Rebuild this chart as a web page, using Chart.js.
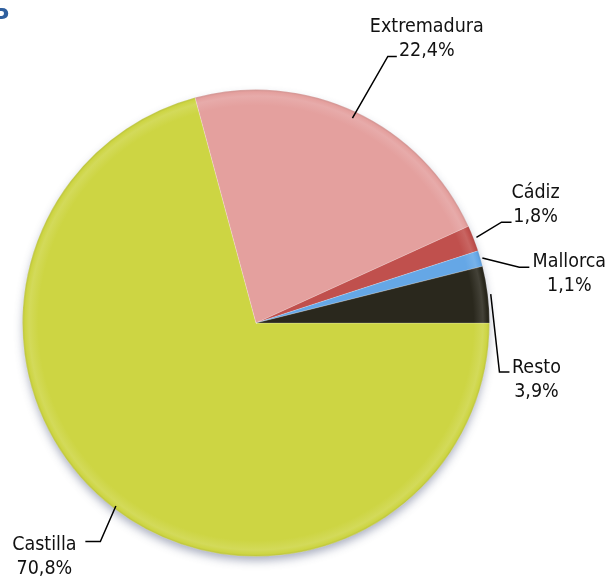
<!DOCTYPE html>
<html><head><meta charset="utf-8">
<script src="https://cdn.jsdelivr.net/npm/chart.js@4/dist/chart.umd.min.js"></script>
<style>html,body{margin:0;padding:0;background:#fff}#wrap{width:613px;height:579px}</style>
</head><body><div id="wrap"><canvas id="c" width="613" height="579"></canvas></div>
<script>
// ---- data ----
const categories = ["Castilla", "Extremadura", "Cádiz", "Mallorca", "Resto"];
const shares = [70.8, 22.4, 1.8, 1.1, 3.9];
const valueLabels = ["70,8%", "22,4%", "1,8%", "1,1%", "3,9%"];
const sliceColors = ["#cdd543", "#e4a09e", "#c0504d", "#65a7e6", "#2a281d"];

// ---- label layout (leader lines relative to each slice's outer edge) ----
const labelLayout = [
  { start: -3, elbow: [-13.7, 33.2], tail: -15, text: [-56, 8] },
  { start: -7, elbow: [32.4, -55.3], tail: 9, text: [39, -24] },
  { start: 3, elbow: [27.9, -16.2], tail: 10, text: [34, -24] },
  { start: 2, elbow: [38.9, 8.7], tail: 10, text: [50, 0] },
  { start: 3, elbow: [11.7, 77.5], tail: 10, text: [37, 1] }
];
const FONT = '19.5px "DejaVu Sans Condensed", "DejaVu Sans", sans-serif';

function shade(hex, amt) {
  const n = parseInt(hex.slice(1), 16);
  let r = (n >> 16) & 255, g = (n >> 8) & 255, b = n & 255;
  const f = c => Math.max(0, Math.min(255, Math.round(amt >= 0 ? c + (255 - c) * amt : c * (1 + amt))));
  return `rgb(${f(r)},${f(g)},${f(b)})`;
}

const shadowPlugin = {
  id: 'pieShadow',
  beforeDatasetsDraw(chart) {
    const arc = chart.getDatasetMeta(0).data[0];
    if (!arc) return;
    const p = arc.getProps(['x', 'y', 'outerRadius'], true);
    const ctx = chart.ctx;
    ctx.save();
    ctx.shadowColor = 'rgba(60,70,110,0.45)';
    ctx.shadowBlur = 10;
    ctx.shadowOffsetY = 5;
    ctx.beginPath();
    ctx.arc(p.x, p.y, p.outerRadius - 1, 0, Math.PI * 2);
    ctx.fillStyle = '#ffffff';
    ctx.fill();
    ctx.restore();
  }
};

const labelPlugin = {
  id: 'leaderLabels',
  afterDatasetsDraw(chart) {
    const ctx = chart.ctx;
    const meta = chart.getDatasetMeta(0);
    ctx.save();
    meta.data.forEach((arc, i) => {
      const p = arc.getProps(['x', 'y', 'startAngle', 'endAngle', 'outerRadius'], true);
      const mid = (p.startAngle + p.endAngle) / 2;
      const cx = Math.cos(mid), cy = Math.sin(mid);
      const L = labelLayout[i];
      const ex = p.x + p.outerRadius * cx, ey = p.y + p.outerRadius * cy;
      const sx = p.x + (p.outerRadius + L.start) * cx, sy = p.y + (p.outerRadius + L.start) * cy;
      const bx = ex + L.elbow[0], by = ey + L.elbow[1];
      ctx.beginPath();
      ctx.moveTo(sx, sy);
      ctx.lineTo(bx, by);
      ctx.lineTo(bx + L.tail, by);
      ctx.strokeStyle = '#000';
      ctx.lineWidth = 1.5;
      ctx.stroke();
      ctx.fillStyle = '#111';
      ctx.font = FONT;
      ctx.textAlign = 'center';
      ctx.textBaseline = 'alphabetic';
      const tx = bx + L.text[0], ty = by + L.text[1];
      ctx.fillText(categories[i], tx, ty);
      ctx.fillText(valueLabels[i], tx, ty + 24);
    });
    // cut-off title fragment at the top-left corner
    ctx.fillStyle = '#2f5f9e';
    ctx.font = 'bold 22px "DejaVu Sans", sans-serif';
    ctx.textAlign = 'left';
    ctx.fillText('P', -7, 24);
    ctx.restore();
  }
};

new Chart(document.getElementById('c'), {
  type: 'pie',
  data: {
    labels: categories,
    datasets: [{
      data: shares,
      backgroundColor: (context) => {
        const base = sliceColors[context.dataIndex];
        const chart = context.chart;
        const a = chart.chartArea;
        if (!a) return base;
        const x = (a.left + a.right) / 2, y = (a.top + a.bottom) / 2;
        const r = Math.min(a.right - a.left, a.bottom - a.top) / 2;
        const g = chart.ctx.createRadialGradient(x, y, 0, x, y, r);
        g.addColorStop(0, base);
        g.addColorStop(0.93, base);
        g.addColorStop(0.97, shade(base, 0.12));
        g.addColorStop(0.988, base);
        g.addColorStop(1, shade(base, -0.12));
        return g;
      },
      borderColor: 'rgba(255,255,255,0.2)',
      borderWidth: 1
    }]
  },
  options: {
    responsive: false,
    animation: false,
    rotation: 90,
    layout: { padding: { left: 22, right: 123, top: 89, bottom: 22 } },
    plugins: { legend: { display: false }, tooltip: { enabled: false } }
  },
  plugins: [shadowPlugin, labelPlugin]
});
</script>
</body></html>
